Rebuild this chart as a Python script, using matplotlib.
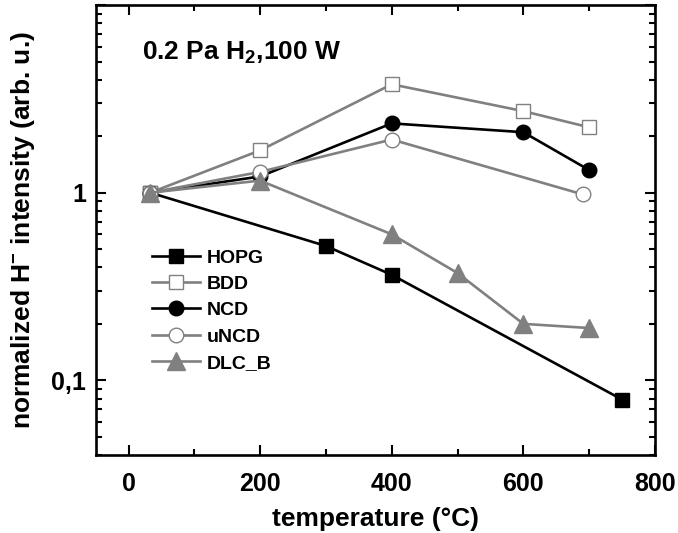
import matplotlib
matplotlib.use("Agg")
import matplotlib.pyplot as plt
from matplotlib.ticker import LogLocator, FixedLocator, FixedFormatter, MultipleLocator, NullFormatter

plt.rcParams['font.family'] = ['Liberation Sans', 'DejaVu Sans']
plt.rcParams['font.weight'] = 'bold'
plt.rcParams['mathtext.fontset'] = 'custom'
plt.rcParams['mathtext.rm'] = 'Liberation Sans:bold'
plt.rcParams['mathtext.it'] = 'Liberation Sans:bold'
plt.rcParams['mathtext.bf'] = 'Liberation Sans:bold'

# temperature (°C) and normalized H- intensity for each surface
t_hopg = [33, 300, 400, 750]
i_hopg = [1.0, 0.52, 0.365, 0.079]

t_bdd = [33, 200, 400, 600, 700]
i_bdd = [1.0, 1.68, 3.78, 2.72, 2.23]

t_ncd = [33, 200, 400, 600, 700]
i_ncd = [1.0, 1.22, 2.34, 2.10, 1.32]

t_uncd = [33, 200, 400, 690]
i_uncd = [1.0, 1.29, 1.92, 0.98]

t_dlc = [33, 200, 400, 500, 600, 700]
i_dlc = [1.0, 1.16, 0.6, 0.373, 0.2, 0.19]

gray = '#808080'

fig = plt.figure(figsize=(6.78, 5.33), dpi=100)
ax = fig.add_axes([0.141, 0.1463, 0.825, 0.8443])

ax.plot(t_hopg, i_hopg, '-s', color='black', lw=1.9, ms=9.5, mfc='black', mec='black', label='HOPG')
ax.plot(t_bdd, i_bdd, '-s', color=gray, lw=1.9, ms=9.5, mfc='white', mec=gray, mew=1.0, label='BDD')
ax.plot(t_ncd, i_ncd, '-o', color='black', lw=1.9, ms=10.5, mfc='black', mec='black', label='NCD')
ax.plot(t_uncd, i_uncd, '-o', color=gray, lw=1.9, ms=10.5, mfc='white', mec=gray, mew=1.0, label='uNCD')
ax.plot(t_dlc, i_dlc, '-^', color=gray, lw=1.9, ms=12.5, mfc=gray, mec=gray, label='DLC_B')

ax.set_yscale('log')
ax.set_xlim(-50, 800)
ax.set_ylim(0.04, 10)

ax.xaxis.set_major_locator(MultipleLocator(200))
ax.xaxis.set_minor_locator(MultipleLocator(100))
ax.yaxis.set_major_locator(FixedLocator([0.1, 1, 10]))
ax.yaxis.set_major_formatter(FixedFormatter(['0,1', '1', '']))
ax.yaxis.set_minor_locator(LogLocator(base=10, subs=range(2, 10)))
ax.yaxis.set_minor_formatter(NullFormatter())

ax.tick_params(which='both', direction='in', top=True, right=True, width=1.5, labelsize=18)
ax.tick_params(which='major', length=7)
ax.tick_params(which='minor', length=4)
ax.tick_params(axis='x', which='both', pad=12)
ax.tick_params(axis='y', which='both', pad=7)
for s in ax.spines.values():
    s.set_linewidth(1.9)

ax.set_xlabel('temperature (°C)', fontsize=19, fontweight='bold', labelpad=8)
ax.set_ylabel('normalized H$^{-}$ intensity (arb. u.)', fontsize=19, fontweight='bold', labelpad=10)

ax.text(0.083, 0.878, '0.2 Pa H$_2$,100 W', transform=ax.transAxes, fontsize=19,
        fontweight='bold', va='baseline')

ax.legend(loc='upper left', bbox_to_anchor=(0.1, 0.458), frameon=False, fontsize=14,
          numpoints=1, handlelength=2.5, handletextpad=0.35, labelspacing=0.45, borderpad=0, borderaxespad=0)

fig.savefig('out.png', dpi=100)
